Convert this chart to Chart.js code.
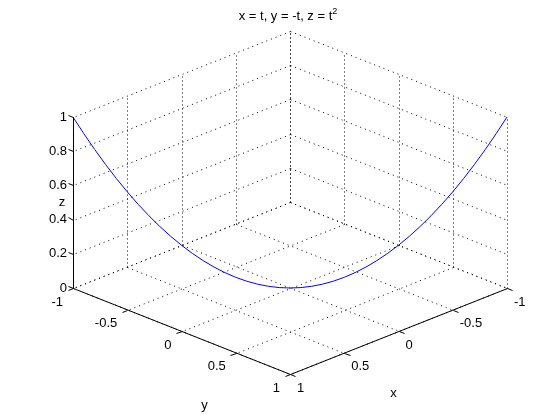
<!DOCTYPE html>
<html>
<head>
<meta charset="utf-8">
<script src="https://cdn.jsdelivr.net/npm/chart.js@4"></script>
<style>
  html, body { margin: 0; padding: 0; background: #fff; }
  #wrap { width: 560px; height: 420px; }
</style>
</head>
<body>
<div id="wrap"><canvas id="plot3d" width="560" height="420"></canvas></div>
<script>
// curve samples: x = t, y = -t, z = t^2
var tValues = [-1, -0.95, -0.9, -0.85, -0.8, -0.75, -0.7, -0.65, -0.6, -0.55, -0.5, -0.45, -0.4, -0.35, -0.3, -0.25, -0.2, -0.15, -0.1, -0.05,
               0, 0.05, 0.1, 0.15, 0.2, 0.25, 0.3, 0.35, 0.4, 0.45, 0.5, 0.55, 0.6, 0.65, 0.7, 0.75, 0.8, 0.85, 0.9, 0.95, 1];
var xValues = tValues;
var yValues = [1, 0.95, 0.9, 0.85, 0.8, 0.75, 0.7, 0.65, 0.6, 0.55, 0.5, 0.45, 0.4, 0.35, 0.3, 0.25, 0.2, 0.15, 0.1, 0.05,
               0, -0.05, -0.1, -0.15, -0.2, -0.25, -0.3, -0.35, -0.4, -0.45, -0.5, -0.55, -0.6, -0.65, -0.7, -0.75, -0.8, -0.85, -0.9, -0.95, -1];
var zValues = [1, 0.9025, 0.81, 0.7225, 0.64, 0.5625, 0.49, 0.4225, 0.36, 0.3025, 0.25, 0.2025, 0.16, 0.1225, 0.09, 0.0625, 0.04, 0.0225, 0.01, 0.0025,
               0, 0.0025, 0.01, 0.0225, 0.04, 0.0625, 0.09, 0.1225, 0.16, 0.2025, 0.25, 0.3025, 0.36, 0.4225, 0.49, 0.5625, 0.64, 0.7225, 0.81, 0.9025, 1];

var xTicks = [-1, -0.5, 0, 0.5, 1];
var yTicks = [-1, -0.5, 0, 0.5, 1];
var zTicks = [0, 0.2, 0.4, 0.6, 0.8, 1];
var titleText = 'x = t, y = -t, z = t';
var titleSup = '2';

// view: orthographic projection onto the canvas-sized scales
function proj(x, y, z) {
    return {
        x: 290 + 108.5 * (y - x),
        y: 288 + 43 * (x + y) - 171 * z
    };
}

var curve = xValues.map(function (x, i) {
    return proj(x, yValues[i], zValues[i]);
});

var FONT = '13px "Liberation Sans", Arial, Helvetica, sans-serif';
var SUPFONT = '9px "Liberation Sans", Arial, Helvetica, sans-serif';

function px(chart, p) {
    return {
        x: chart.scales.x.getPixelForValue(p.x),
        y: chart.scales.y.getPixelForValue(p.y)
    };
}

function seg(ctx, chart, a, b) {
    var p = px(chart, proj(a[0], a[1], a[2]));
    var q = px(chart, proj(b[0], b[1], b[2]));
    ctx.beginPath();
    ctx.moveTo(Math.round(p.x) + 0.5, Math.round(p.y) + 0.5);
    ctx.lineTo(Math.round(q.x) + 0.5, Math.round(q.y) + 0.5);
    ctx.stroke();
}

var boxPlugin = {
    id: 'box3d',
    beforeDatasetsDraw: function (chart) {
        var ctx = chart.ctx;
        ctx.save();
        ctx.strokeStyle = '#000';
        ctx.lineWidth = 1;
        // floor z = 0
        ctx.setLineDash([1, 4]);
        xTicks.forEach(function (v) { seg(ctx, chart, [v, -1, 0], [v, 1, 0]); });
        yTicks.forEach(function (v) { seg(ctx, chart, [-1, v, 0], [1, v, 0]); });
        // horizontal grid on back walls
        zTicks.forEach(function (v) { seg(ctx, chart, [-1, -1, v], [1, -1, v]); });
        zTicks.forEach(function (v) { seg(ctx, chart, [-1, -1, v], [-1, 1, v]); });
        // vertical grid on back walls
        ctx.setLineDash([1, 3]);
        xTicks.forEach(function (v) { seg(ctx, chart, [v, -1, 0], [v, -1, 1]); });
        yTicks.forEach(function (v) { seg(ctx, chart, [-1, v, 0], [-1, v, 1]); });
        ctx.restore();
    },
    afterDatasetsDraw: function (chart) {
        var ctx = chart.ctx;
        ctx.save();
        ctx.strokeStyle = '#000';
        ctx.fillStyle = '#000';
        ctx.lineWidth = 1;
        ctx.setLineDash([]);
        // solid axes
        seg(ctx, chart, [1, -1, 0], [1, -1, 1]);
        seg(ctx, chart, [1, -1, 0], [1, 1, 0]);
        seg(ctx, chart, [1, 1, 0], [-1, 1, 0]);
        // tick marks
        var tk = 0.05;
        zTicks.forEach(function (v) { seg(ctx, chart, [1, -1, v], [1, -1 - tk, v]); });
        yTicks.forEach(function (v) { seg(ctx, chart, [1, v, 0], [1 + tk, v, 0]); });
        xTicks.forEach(function (v) { seg(ctx, chart, [v, 1, 0], [v, 1 + tk, 0]); });

        ctx.font = FONT;
        ctx.textBaseline = 'middle';
        ctx.textAlign = 'right';
        zTicks.forEach(function (v) {
            var p = px(chart, proj(1, -1, v));
            ctx.fillText(String(v), p.x - 6, p.y);
        });
        yTicks.forEach(function (v) {
            var p = px(chart, proj(1, v, 0));
            ctx.fillText(String(v), p.x - 10, p.y + 14);
        });
        ctx.textAlign = 'left';
        xTicks.forEach(function (v) {
            var p = px(chart, proj(v, 1, 0));
            ctx.fillText(String(v), p.x + 7, p.y + 14);
        });

        // axis labels
        ctx.textAlign = 'center';
        var zl = px(chart, proj(1, -1, 0.5));
        ctx.fillText('z', zl.x - 11, zl.y);
        var yl = px(chart, proj(1, 0, 0));
        ctx.fillText('y', yl.x + 23, yl.y + 74);
        var xl = px(chart, proj(0, 1, 0));
        ctx.fillText('x', xl.x - 5, xl.y + 62);

        // title with superscript
        ctx.textAlign = 'left';
        ctx.textBaseline = 'alphabetic';
        var w = ctx.measureText(titleText).width;
        ctx.font = SUPFONT;
        var ws = ctx.measureText(titleSup).width;
        var x0 = 288 - (w + ws) / 2;
        ctx.font = FONT;
        ctx.fillText(titleText, x0, 20);
        ctx.font = SUPFONT;
        ctx.fillText(titleSup, x0 + w, 14);
        ctx.restore();
    }
};

var ctx = document.getElementById('plot3d').getContext('2d');

var myChart = new Chart(ctx, {
    type: 'scatter',
    data: {
        datasets: [
            {
                label: 'curve',
                data: curve,
                showLine: true,
                borderColor: '#0000ff',
                backgroundColor: '#0000ff',
                borderWidth: 1,
                pointRadius: 0,
                pointHoverRadius: 0,
                tension: 0,
                clip: false
            }
        ]
    },
    options: {
        responsive: false,
        animation: false,
        events: [],
        layout: {
            padding: 0
        },
        plugins: {
            legend: { display: false },
            title: { display: false },
            tooltip: { enabled: false }
        },
        scales: {
            x: {
                type: 'linear',
                min: 0,
                max: 560,
                display: false
            },
            y: {
                type: 'linear',
                min: 0,
                max: 420,
                reverse: true,
                display: false
            }
        }
    },
    plugins: [boxPlugin]
});
</script>
</body>
</html>
